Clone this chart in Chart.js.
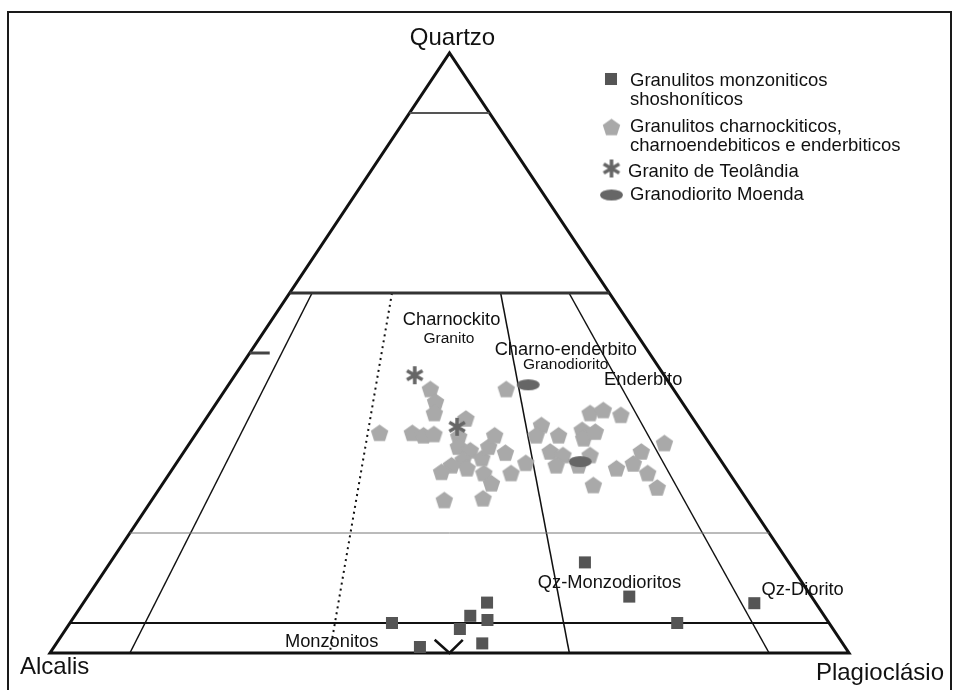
<!DOCTYPE html>
<html>
<head>
<meta charset="utf-8">
<title>Diagrama QAP</title>
<script src="https://cdn.jsdelivr.net/npm/chart.js@4.4.1/dist/chart.umd.min.js"></script>
<style>
  html, body { margin: 0; padding: 0; background: #fff; }
  canvas { display: block; }
</style>
</head>
<body>
<canvas id="qap" width="954" height="690"></canvas>
<script>
// Modal compositions in % : Q = quartzo, A = feldspato alcalino, P = plagioclásio

// Granulitos monzoníticos shoshoníticos
const monzoQ = [5.0, 1.0, 6.2, 8.4, 5.5, 4.0, 1.6, 15.1, 9.4, 5.0, 8.3];
const monzoA = [54.7, 53.2, 44.3, 41.1, 42.5, 46.7, 45.1, 25.5, 22.8, 19.0, 7.7];
const monzoP = [40.3, 45.8, 49.5, 50.5, 52.0, 49.3, 53.3, 59.4, 67.8, 76.0, 84.0];

// Granulitos charnockíticos, charnoenderbíticos e enderbíticos
const charnQ = [36.7, 36.7, 36.3, 36.5, 44.0, 41.9, 40.0, 39.1, 44.0, 36.1, 34.4, 33.8, 32.2, 30.8, 31.3, 30.2,
                32.5, 30.0, 28.3, 34.4, 36.3, 33.4, 30.0, 31.7, 25.5, 25.8, 38.0, 36.3, 33.6, 36.3, 33.0, 31.3,
                31.3, 37.2, 35.8, 36.9, 40.0, 40.5, 39.7, 33.0, 28.0, 30.8, 31.6, 33.6, 30.0, 27.6, 35.0];
const charnA = [40.4, 36.3, 35.1, 33.7, 30.4, 30.8, 31.9, 28.4, 20.9, 30.8, 31.7, 30.5, 32.2, 32.4, 34.1, 35.9,
                29.7, 30.7, 30.6, 27.9, 26.2, 26.3, 27.3, 24.6, 37.9, 32.9, 19.5, 21.0, 20.6, 18.2, 19.3, 21.0,
                18.2, 14.8, 15.3, 13.3, 12.4, 10.5, 8.7, 15.9, 18.0, 13.7, 11.2, 9.2, 10.2, 10.2, 5.6];
const charnP = [22.9, 27.0, 28.6, 29.8, 25.6, 27.3, 28.1, 32.5, 35.1, 33.1, 33.9, 35.7, 35.6, 36.8, 34.6, 33.9,
                37.8, 39.3, 41.1, 37.7, 37.5, 40.3, 42.7, 43.7, 36.6, 41.3, 42.5, 42.7, 45.8, 45.5, 47.7, 47.7,
                50.5, 48.0, 48.9, 49.8, 47.6, 49.0, 51.6, 51.1, 54.0, 55.5, 57.2, 57.2, 59.8, 62.2, 59.4];

// Granito de Teolândia
const teolQ = [46.3, 37.7];
const teolA = [31.2, 30.2];
const teolP = [22.5, 32.1];

// Granodiorito Moenda
const moendaQ = [44.7, 31.9];
const moendaA = [17.8, 17.7];
const moendaP = [37.5, 50.4];

// Field boundaries: quartz levels (horizontal) and P/(A+P) dividers (top at Q = 60)
const quartzLevels = [90, 60, 20, 5];
const dividerTopRatio = [7, 32, 66, 87.4];
const dividerBaseRatio = [10, 35, 65, 90];
const dividerBaseQ = [0, 0.5, 0, 0];

// Field names, anchored at the left end of each label (Q, P)
const fieldNames = ['Charnockito', 'Granito', 'Charno-enderbito', 'Granodiorito', 'Enderbito',
                    'Qz-Monzodioritos', 'Qz-Diorito', 'Monzonitos'];
const fieldNameQ = [55.5, 52.3, 50.5, 48.0, 45.5, 11.7, 10.5, 1.8];
const fieldNameP = [16.4, 20.6, 30.4, 35.2, 46.6, 55.2, 83.8, 28.5];

const vertexNames = ['Quartzo', 'Alcalis', 'Plagioclásio'];
const seriesNames = [
  ['Granulitos monzoniticos', 'shoshoníticos'],
  ['Granulitos charnockiticos,', 'charnoendebiticos e enderbiticos'],
  ['Granito de Teolândia'],
  ['Granodiorito Moenda']
];

// ternary (Q, A, P) -> plot coordinates, Q apex at the top centre
function toXY(q, a, p) {
  const s = q + a + p;
  return { x: (p + q / 2) / s * 100, y: q / s * 100 };
}
function fromRatio(q, r) {
  return toXY(q, (100 - q) * (1 - r / 100), (100 - q) * r / 100);
}
function series(qs, as, ps) {
  return qs.map((q, i) => toXY(q, as[i], ps[i]));
}

// marker images
function pentagonMarker(r, color) {
  const s = Math.ceil(r * 2 + 2);
  const c = document.createElement('canvas');
  c.width = s; c.height = s;
  const g = c.getContext('2d');
  g.fillStyle = color;
  g.beginPath();
  for (let k = 0; k < 5; k++) {
    const ang = -Math.PI / 2 + k * 2 * Math.PI / 5;
    const px = s / 2 + r * Math.cos(ang);
    const py = s / 2 + r * Math.sin(ang) + r * 0.095;
    if (k) g.lineTo(px, py); else g.moveTo(px, py);
  }
  g.closePath();
  g.fill();
  return c;
}
function asteriskMarker(r, color) {
  const s = Math.ceil(r * 2 + 4);
  const c = document.createElement('canvas');
  c.width = s; c.height = s;
  const g = c.getContext('2d');
  g.strokeStyle = color;
  g.lineWidth = 3.6;
  g.lineCap = 'butt';
  g.beginPath();
  for (let k = 0; k < 3; k++) {
    const ang = Math.PI / 2 + k * Math.PI / 3;
    g.moveTo(s / 2 + r * Math.cos(ang), s / 2 + r * Math.sin(ang));
    g.lineTo(s / 2 - r * Math.cos(ang), s / 2 - r * Math.sin(ang));
  }
  g.stroke();
  return c;
}
function ellipseMarker(rx, ry, color) {
  const c = document.createElement('canvas');
  c.width = Math.ceil(rx * 2 + 2); c.height = Math.ceil(ry * 2 + 2);
  const g = c.getContext('2d');
  g.fillStyle = color;
  g.beginPath();
  g.ellipse(c.width / 2, c.height / 2, rx, ry, 0, 0, Math.PI * 2);
  g.fill();
  return c;
}

const pentMk = pentagonMarker(9.2, '#a9a9a9');
const starMk = asteriskMarker(9, '#666666');
const ovalMk = ellipseMarker(11.5, 5.5, '#666666');

// point series (first dataset is drawn on top)
const pointSets = [
  { label: seriesNames[3].join(' '), data: series(moendaQ, moendaA, moendaP),
    pointStyle: ovalMk, pointRadius: 6 },
  { label: seriesNames[2].join(' '), data: series(teolQ, teolA, teolP),
    pointStyle: starMk, pointRadius: 6 },
  { label: seriesNames[0].join(' '), data: series(monzoQ, monzoA, monzoP),
    pointStyle: 'rect', pointRadius: 8.5, backgroundColor: '#555555', borderWidth: 0 },
  { label: seriesNames[1].join(' '), data: series(charnQ, charnA, charnP),
    pointStyle: pentMk, pointRadius: 6 }
].map(d => Object.assign({ showLine: false, clip: false, borderWidth: 0, borderColor: 'transparent' }, d));

function lineSet(label, pts, width, color, dash) {
  return { label, data: pts, showLine: true, pointRadius: 0, fill: false, clip: false,
           borderColor: color, borderWidth: width, borderDash: dash || [],
           borderJoinStyle: 'miter', borderCapStyle: 'butt', tension: 0 };
}

const levelStyle = { 90: [2, '#555555'], 60: [3, '#333333'], 20: [1, '#777777'], 5: [2, '#111111'] };
const lineSets = [];
quartzLevels.forEach(q => {
  lineSets.push(lineSet('Q ' + q, [fromRatio(q, 0), fromRatio(q, 100)], levelStyle[q][0], levelStyle[q][1]));
});
dividerTopRatio.forEach((r, i) => {
  const dashed = i === 1;
  lineSets.push(lineSet('P/(A+P) ' + dividerBaseRatio[i],
    [fromRatio(60, r), fromRatio(dividerBaseQ[i], dividerBaseRatio[i])],
    dashed ? 2 : 1.5, '#111111', dashed ? [2, 4] : null));
});
// tick at Q = 50 on the A–Q side and V mark at the centre of the base
lineSets.push(lineSet('Q 50', [fromRatio(50, 0), fromRatio(50, 5)], 3, '#444444'));
lineSets.push(lineSet('base', [fromRatio(2.2, 48.1), fromRatio(0, 50), fromRatio(2.2, 51.7)], 2.5, '#111111'));
// triangle outline
lineSets.push(lineSet('QAP', [toXY(0, 100, 0), toXY(0, 0, 100), toXY(100, 0, 0), toXY(0, 100, 0), toXY(0, 0, 100)],
  3, '#111111'));

const FONT = '"Liberation Sans", Arial, sans-serif';

const framePlugin = {
  id: 'frame',
  beforeDraw(chart) {
    const c = chart.ctx;
    c.save();
    c.fillStyle = '#ffffff';
    c.fillRect(0, 0, chart.width, chart.height);
    c.strokeStyle = '#1a1a1a';
    c.lineWidth = 2;
    c.strokeRect(8, 12, 943, 700);
    c.restore();
  }
};

const namesPlugin = {
  id: 'fieldNames',
  afterDatasetsDraw(chart) {
    const { ctx, scales: { x, y } } = chart;
    ctx.save();
    ctx.fillStyle = '#111111';
    ctx.textBaseline = 'middle';
    ctx.textAlign = 'left';
    fieldNames.forEach((t, i) => {
      const q = fieldNameQ[i], p = fieldNameP[i];
      const pt = toXY(q, 100 - q - p, p);
      const small = t === 'Granito' || t === 'Granodiorito';
      ctx.font = (small ? '15.5px ' : '18.3px ') + FONT;
      ctx.fillText(t, x.getPixelForValue(pt.x), y.getPixelForValue(pt.y));
    });
    ctx.font = '24px ' + FONT;
    const apex = toXY(100, 0, 0), left = toXY(0, 100, 0), right = toXY(0, 0, 100);
    ctx.textAlign = 'center';
    ctx.fillText(vertexNames[0], x.getPixelForValue(apex.x) + 3, y.getPixelForValue(apex.y) - 15);
    ctx.textAlign = 'left';
    ctx.fillText(vertexNames[1], x.getPixelForValue(left.x) - 30, y.getPixelForValue(left.y) + 14);
    ctx.textAlign = 'right';
    ctx.fillText(vertexNames[2], x.getPixelForValue(right.x) + 95, y.getPixelForValue(right.y) + 20);
    ctx.restore();
  }
};

// legend rows: dataset index, marker centre, text origin
const legendRows = [
  { ds: 2, mx: 611, my: 79, tx: 630, ty: 80.5 },
  { ds: 3, mx: 611.5, my: 127, tx: 630, ty: 126.7 },
  { ds: 1, mx: 611.5, my: 168.5, tx: 628, ty: 171.5 },
  { ds: 0, mx: 611.5, my: 195, tx: 630, ty: 195 }
];
const legendText = [seriesNames[0], seriesNames[1], seriesNames[2], seriesNames[3]];

const legendPlugin = {
  id: 'legendBox',
  afterDraw(chart) {
    const c = chart.ctx;
    c.save();
    c.font = '18.5px ' + FONT;
    c.fillStyle = '#111111';
    c.textBaseline = 'middle';
    c.textAlign = 'left';
    legendRows.forEach((row, i) => {
      const ds = chart.data.datasets[row.ds];
      const st = ds.pointStyle;
      if (st === 'rect') {
        const side = ds.pointRadius * Math.SQRT2;
        c.fillStyle = ds.backgroundColor;
        c.fillRect(row.mx - side / 2, row.my - side / 2, side, side);
      } else {
        c.drawImage(st, row.mx - st.width / 2, row.my - st.height / 2);
      }
      c.fillStyle = '#111111';
      legendText[i].forEach((t, k) => c.fillText(t, row.tx, row.ty + k * 19.3));
    });
    c.restore();
  }
};

new Chart(document.getElementById('qap'), {
  type: 'scatter',
  data: { datasets: pointSets.concat(lineSets) },
  options: {
    responsive: false,
    animation: false,
    devicePixelRatio: 1,
    events: [],
    layout: { padding: { left: 50, right: 105, top: 53, bottom: 37 } },
    scales: {
      x: { type: 'linear', min: 0, max: 100, display: false },
      y: { type: 'linear', min: 0, max: 100, display: false }
    },
    plugins: { legend: { display: false }, tooltip: { enabled: false } }
  },
  plugins: [framePlugin, namesPlugin, legendPlugin]
});
</script>
</body>
</html>
